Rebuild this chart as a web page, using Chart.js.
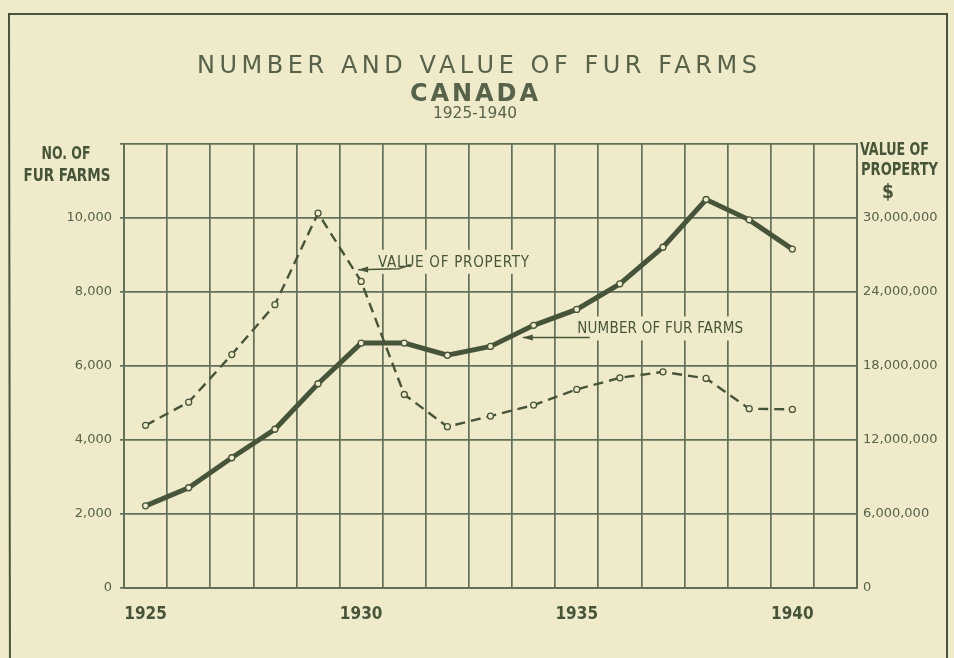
<!DOCTYPE html>
<html>
<head>
<meta charset="utf-8">
<script src="https://cdn.jsdelivr.net/npm/chart.js@4.4.1/dist/chart.umd.min.js"></script>
<style>
  html, body { margin: 0; padding: 0; background: #efebca; }
  #caixa { width: 954px; height: 658px; position: relative; }
</style>
</head>
<body>
<div id="caixa"><canvas id="grafico" width="954" height="658"></canvas></div>
<script>
// anos (a ultima coluna fica vazia, como no original)
const anos = ['1925', '1926', '1927', '1928', '1929', '1930', '1931', '1932',
  '1933', '1934', '1935', '1936', '1937', '1938', '1939', '1940', '1941'];
const anosRotulados = ['1925', '1930', '1935', '1940'];

// numero de fazendas de peles (eixo esquerdo)
const numeroFazendas = [2220, 2710, 3520, 4290, 5520, 6620, 6620, 6290,
  6530, 7100, 7530, 8220, 9210, 10500, 9950, 9160, null];

// valor da propriedade em dolares (eixo direito)
const valorPropriedade = [13190000, 15070000, 18930000, 22970000, 30390000, 24860000,
  15690000, 13080000, 13940000, 14830000, 16100000, 17040000, 17530000, 16990000,
  14540000, 14480000, null];

const ticksFazendas = [0, 2000, 4000, 6000, 8000, 10000];
const ticksValor = [0, 6000000, 12000000, 18000000, 24000000, 30000000];

const FUNDO = '#efebca';
const TINTA = '#46553a';
const GRADE = '#62705a';
const TEXTO = '#56624a';
const CONDENSADA = '"DejaVu Sans Condensed", "DejaVu Sans", sans-serif';

// escreve o texto ocupando a largura pedida (espaça ou comprime)
function textoLargura(ctx, txt, x, y, largura, alinhar) {
  ctx.letterSpacing = '0px';
  ctx.textAlign = 'left';
  const w = ctx.measureText(txt).width;
  const x0 = alinhar === 'center' ? x - largura / 2 : x;
  const esp = txt.length > 1 ? (largura - w) / (txt.length - 1) : 0;
  if (esp >= 0) {
    ctx.letterSpacing = esp + 'px';
    ctx.fillText(txt, x0, y);
    ctx.letterSpacing = '0px';
  } else {
    ctx.save();
    ctx.translate(x0, y);
    ctx.scale(largura / w, 1);
    ctx.fillText(txt, 0, 0);
    ctx.restore();
  }
}

function seta(ctx, pts) {
  ctx.save();
  ctx.strokeStyle = TINTA;
  ctx.fillStyle = TINTA;
  ctx.lineWidth = 1.6;
  ctx.beginPath();
  ctx.moveTo(pts[0][0], pts[0][1]);
  for (let i = 1; i < pts.length; i++) ctx.lineTo(pts[i][0], pts[i][1]);
  ctx.stroke();
  const [tx, ty] = pts[pts.length - 1];
  const [px, py] = pts[pts.length - 2];
  const ang = Math.atan2(ty - py, tx - px);
  ctx.beginPath();
  ctx.moveTo(tx, ty);
  ctx.lineTo(tx - 10 * Math.cos(ang) + 3 * Math.sin(ang), ty - 10 * Math.sin(ang) - 3 * Math.cos(ang));
  ctx.lineTo(tx - 10 * Math.cos(ang) - 3 * Math.sin(ang), ty - 10 * Math.sin(ang) + 3 * Math.cos(ang));
  ctx.closePath();
  ctx.fill();
  ctx.restore();
}

const moldura = {
  id: 'moldura',
  beforeDraw(chart) {
    const ctx = chart.ctx;
    ctx.save();
    ctx.fillStyle = FUNDO;
    ctx.fillRect(0, 0, chart.width, chart.height);
    ctx.strokeStyle = TINTA;
    ctx.lineWidth = 2;
    ctx.beginPath();
    ctx.moveTo(10, 700);
    ctx.lineTo(9, 14);
    ctx.lineTo(947, 14);
    ctx.lineTo(947, 700);
    ctx.stroke();
    ctx.restore();
  },
  afterDraw(chart) {
    const ctx = chart.ctx;
    ctx.save();
    ctx.fillStyle = TEXTO;
    ctx.textBaseline = 'alphabetic';
    ctx.font = '24px "DejaVu Sans", sans-serif';
    textoLargura(ctx, 'NUMBER AND VALUE OF FUR FARMS', 477, 73, 560, 'center');
    ctx.font = 'bold 24px "DejaVu Sans", sans-serif';
    textoLargura(ctx, 'CANADA', 474, 101, 128, 'center');
    ctx.font = '16px "DejaVu Sans", sans-serif';
    textoLargura(ctx, '1925-1940', 475, 118, 84, 'center');

    ctx.fillStyle = TINTA;
    ctx.font = 'bold 17px ' + CONDENSADA;
    textoLargura(ctx, 'NO. OF', 66, 159, 49, 'center');
    textoLargura(ctx, 'FUR FARMS', 67, 181, 87, 'center');
    textoLargura(ctx, 'VALUE OF', 860, 155, 69, 'left');
    textoLargura(ctx, 'PROPERTY', 861, 175, 77, 'left');
    ctx.font = 'bold 19px ' + CONDENSADA;
    ctx.textAlign = 'center';
    ctx.fillText('$', 888, 198);
    ctx.restore();
  },
  beforeDatasetsDraw(chart) {
    const ctx = chart.ctx;
    const xs = chart.scales.x;
    const ys = chart.scales.y;
    const X = i => xs.getPixelForValue(i);
    const Y = v => ys.getPixelForValue(v);
    ctx.save();
    ctx.font = '15px ' + CONDENSADA;
    ctx.textBaseline = 'alphabetic';
    const notas = [
      { txt: 'VALUE OF PROPERTY', i: 5.39, v: 8680, larg: 151,
        seta: [[6.15, 8740], [5.87, 8630], [4.93, 8600]] },
      { txt: 'NUMBER OF FUR FARMS', i: 10.01, v: 6880, larg: 166,
        seta: [[10.3, 6770], [8.75, 6770]] }
    ];
    notas.forEach(n => {
      const x = X(n.i), y = Y(n.v);
      ctx.fillStyle = FUNDO;
      ctx.fillRect(x - 5, y - 17, n.larg + 10, 24);
      ctx.fillStyle = TINTA;
      textoLargura(ctx, n.txt, x, y, n.larg, 'left');
      seta(ctx, n.seta.map(p => [X(p[0]), Y(p[1])]));
    });
    ctx.restore();
  }
};

const ctx = document.getElementById('grafico').getContext('2d');
new Chart(ctx, {
  type: 'line',
  data: {
    labels: anos,
    datasets: [
      {
        label: 'Number of fur farms',
        data: numeroFazendas,
        yAxisID: 'y',
        borderColor: TINTA,
        borderWidth: 5,
        pointRadius: 3,
        pointBorderWidth: 1.3,
        pointBackgroundColor: FUNDO,
        pointBorderColor: TINTA,
        tension: 0
      },
      {
        label: 'Value of property',
        data: valorPropriedade,
        yAxisID: 'y1',
        borderColor: TINTA,
        borderWidth: 2.4,
        borderDash: [10, 6],
        pointRadius: 3,
        pointBorderWidth: 1.3,
        pointBackgroundColor: FUNDO,
        pointBorderColor: TINTA,
        tension: 0
      }
    ]
  },
  options: {
    responsive: false,
    animation: false,
    devicePixelRatio: 1,
    layout: { padding: { top: 144, left: 0, right: 0, bottom: 0 } },
    plugins: { legend: { display: false }, tooltip: { enabled: false } },
    scales: {
      x: {
        type: 'category',
        offset: true,
        grid: { offset: true, color: GRADE, lineWidth: 1.7, drawTicks: false },
        border: { color: GRADE, width: 2 },
        ticks: {
          autoSkip: false,
          maxRotation: 0,
          padding: 16,
          color: TINTA,
          font: { family: CONDENSADA, size: 17, weight: 'bold' },
          callback: function (val) {
            const a = this.getLabelForValue(val);
            return anosRotulados.includes(a) ? a : '';
          }
        },
        afterFit: s => { s.height = 70; }
      },
      y: {
        position: 'left',
        min: 0,
        max: 12000,
        grid: { color: GRADE, lineWidth: 1.7, tickLength: 4 },
        border: { color: GRADE, width: 2 },
        ticks: {
          stepSize: 2000,
          padding: 8,
          color: TEXTO,
          font: { family: '"DejaVu Sans", sans-serif', size: 13 },
          callback: v => ticksFazendas.includes(v) ? v.toLocaleString('en-US') : ''
        },
        afterFit: s => { s.width = 124; }
      },
      y1: {
        position: 'right',
        min: 0,
        max: 36000000,
        grid: { drawOnChartArea: false, drawTicks: false },
        border: { color: GRADE, width: 2 },
        ticks: {
          stepSize: 6000000,
          padding: 6,
          color: TEXTO,
          font: { family: '"DejaVu Sans", sans-serif', size: 13 },
          callback: v => ticksValor.includes(v) ? v.toLocaleString('en-US') : ''
        },
        afterFit: s => { s.width = 97; }
      }
    }
  },
  plugins: [moldura]
});
</script>
</body>
</html>
